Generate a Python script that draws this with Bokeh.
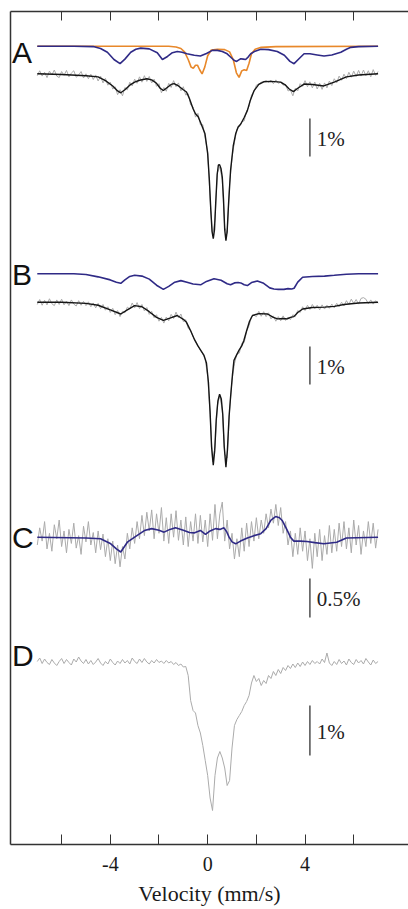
import numpy as np
from bokeh.plotting import figure
from bokeh.models import Range1d, LinearAxis, FixedTicker, CustomJSTickFormatter
from bokeh.core.properties import value
from bokeh.embed import file_html
from bokeh.resources import INLINE

# ---------------- data (absorption depth in %, velocity in mm/s) ----------------
vel = np.round(np.linspace(-7.0, 7.0, 141), 2)

a_data = [0.05, -0.08, 0.06, -0.04, 0.1, -0.07, 0.03, -0.1, 0.06, 0.1,
          -0.06, 0.04, -0.09, 0.08, -0.02, -0.08, 0.09, 0.03, -0.06, 0.11,
          0.0, 0.13, 0.01, 0.15, 0.03, 0.19, 0.06, 0.24, 0.12, 0.3,
          0.22, 0.4, 0.34, 0.55, 0.42, 0.58, 0.36, 0.42, 0.22, 0.32,
          0.14, 0.25, 0.08, 0.22, 0.05, 0.2, 0.07, 0.24, 0.14, 0.33,
          0.26, 0.5, 0.36, 0.46, 0.25, 0.36, 0.18, 0.34, 0.24, 0.45,
          0.34, 0.56, 0.52, 0.82, 0.87, 1.14, 1.04, 1.34, 1.34, 1.7,
          2.05, 3.3, 4.25, 3.85, 2.6, 2.45, 2.8, 4.05, 4.2, 2.9,
          2.2, 1.8, 1.46, 1.4, 1.26, 1.24, 0.98, 0.86, 0.56, 0.47,
          0.3, 0.27, 0.22, 0.21, 0.18, 0.22, 0.17, 0.26, 0.16, 0.25,
          0.22, 0.3, 0.28, 0.45, 0.43, 0.58, 0.38, 0.45, 0.26, 0.33,
          0.18, 0.34, 0.21, 0.37, 0.22, 0.4, 0.25, 0.41, 0.24, 0.37,
          0.19, 0.31, 0.13, 0.24, 0.06, 0.17, 0.01, 0.13, -0.04, 0.09,
          -0.07, 0.07, -0.09, 0.06, -0.1, 0.05, -0.08, 0.08, -0.11, 0.04,
          -0.06]

b_data = [0.06, -0.07, 0.08, -0.05, 0.07, -0.09, 0.04, 0.09, -0.06, 0.06,
          -0.08, 0.07, -0.03, 0.09, -0.06, 0.05, 0.1, -0.04, 0.08, -0.02,
          0.09, -0.01, 0.12, 0.02, 0.15, 0.03, 0.17, 0.06, 0.21, 0.12,
          0.27, 0.16, 0.33, 0.22, 0.38, 0.24, 0.28, 0.13, 0.18, 0.02,
          0.15, 0.01, 0.17, 0.06, 0.23, 0.14, 0.32, 0.24, 0.41, 0.33,
          0.5, 0.4, 0.55, 0.39, 0.49, 0.32, 0.43, 0.26, 0.41, 0.31,
          0.51, 0.46, 0.69, 0.74, 0.91, 1.02, 1.15, 1.26, 1.36, 1.51,
          1.95, 2.95, 4.2, 3.8, 2.72, 2.45, 2.85, 4.0, 4.1, 2.85,
          2.05, 1.62, 1.36, 1.34, 1.08, 1.06, 0.76, 0.62, 0.38, 0.34,
          0.38, 0.24, 0.37, 0.25, 0.38, 0.28, 0.44, 0.36, 0.5, 0.38,
          0.49, 0.36, 0.48, 0.39, 0.46, 0.33, 0.38, 0.22, 0.27, 0.12,
          0.22, 0.08, 0.19, 0.06, 0.17, 0.08, 0.2, 0.07, 0.18, 0.08,
          0.16, 0.05, 0.15, 0.03, 0.12, 0.0, 0.1, -0.04, 0.06, -0.08,
          0.03, -0.07, 0.05, -0.1, -0.12, -0.08, 0.04, -0.06, 0.05, -0.04,
          0.03]

c_data = [0.1, -0.12, 0.05, -0.2, 0.15, -0.05, 0.18, -0.16, 0.02, -0.22,
          0.12, -0.08, 0.2, -0.1, 0.08, -0.18, 0.14, -0.02, 0.22, -0.14,
          0.06, -0.2, 0.1, -0.06, 0.2, -0.08, 0.16, -0.04, 0.25, 0.02,
          0.3, 0.05, 0.34, 0.1, 0.38, 0.12, 0.28, -0.05, 0.15, -0.12,
          0.08, -0.2, 0.02, -0.28, -0.02, -0.32, -0.08, -0.35, 0.02, -0.3,
          -0.05, -0.38, 0.05, -0.25, 0.08, -0.3, 0.0, -0.34, 0.04, -0.22,
          0.1, -0.26, 0.12, -0.2, 0.05, -0.3, 0.08, -0.28, 0.06, -0.22,
          0.12, -0.3, 0.04, -0.42, 0.02, -0.3, -0.45, 0.05, -0.22, 0.15,
          -0.05, 0.28, 0.02, 0.25, -0.12, 0.18, -0.18, 0.12, -0.2, 0.05,
          -0.25, 0.02, -0.22, -0.05, -0.3, -0.12, -0.36, -0.18, -0.42, -0.15,
          -0.38, -0.05, -0.2, 0.1, -0.08, 0.25, -0.05, 0.22, -0.12, 0.18,
          -0.08, 0.3, 0.02, 0.4, -0.05, 0.25, -0.1, 0.3, -0.02, 0.22,
          -0.15, 0.2, -0.1, 0.18, -0.18, 0.12, -0.2, 0.15, -0.12, 0.2,
          -0.22, 0.1, -0.15, 0.22, -0.08, 0.12, -0.2, 0.08, -0.18, 0.14,
          -0.1]

d_data = [0.02, -0.05, 0.06, -0.03, 0.04, 0.08, -0.02, 0.05, 0.1, 0.02,
          -0.04, 0.06, -0.02, 0.04, 0.09, -0.03, 0.03, -0.07, 0.01, 0.06,
          -0.02, 0.07, 0.0, 0.08, 0.03, -0.04, 0.05, 0.1, 0.02, 0.07,
          -0.03, 0.04, 0.09, 0.01, 0.06, -0.02, 0.05, 0.0, 0.07, -0.05,
          0.02, 0.06, -0.03, 0.04, -0.04, 0.03, 0.07, 0.0, 0.05, -0.02,
          0.04, 0.01, 0.06, 0.0, 0.05, 0.02, 0.08, 0.04, 0.1, 0.07,
          0.13, 0.12, 0.3, 0.8, 1.0, 1.05, 1.3, 1.45, 1.7, 2.0,
          2.3, 2.75, 3.0, 2.3, 1.95, 1.82, 1.95, 2.15, 2.5, 2.4,
          1.75, 1.3, 1.18, 1.1, 1.02, 0.9, 0.82, 0.7, 0.45, 0.3,
          0.42, 0.36, 0.5, 0.4, 0.46, 0.3, 0.36, 0.22, 0.3, 0.18,
          0.26, 0.14, 0.2, 0.1, 0.16, 0.07, 0.14, 0.05, 0.12, 0.03,
          0.1, 0.02, 0.08, 0.0, 0.06, 0.02, 0.07, -0.03, 0.04, -0.15,
          0.05, 0.1, 0.02, 0.08, -0.02, 0.06, 0.01, 0.09, -0.03, 0.04,
          0.08, -0.02, 0.05, 0.0, 0.07, -0.04, 0.03, 0.09, -0.01, 0.06,
          0.02]

# fitted curves
a_fit_v = [-7.0, -6.0, -5.0, -4.5, -4.2, -3.9, -3.7, -3.57, -3.4, -3.2,
           -3.0, -2.8, -2.5, -2.3, -2.1, -1.95, -1.82, -1.7, -1.5, -1.38,
           -1.2, -1.0, -0.87, -0.75, -0.6, -0.5, -0.39, -0.25, -0.11, 0.0,
           0.07, 0.13, 0.18, 0.23, 0.28, 0.33, 0.39, 0.44, 0.49, 0.55,
           0.6, 0.65, 0.7, 0.75, 0.8, 0.86, 0.94, 1.05, 1.15, 1.25,
           1.36, 1.5, 1.63, 1.75, 1.9, 2.1, 2.3, 2.6, 3.0, 3.2,
           3.35, 3.52, 3.7, 3.96, 4.3, 4.77, 5.2, 5.7, 6.2, 7.0]
a_fit = [0, 0.02, 0.05, 0.08, 0.18, 0.32, 0.45, 0.5, 0.42, 0.3,
         0.22, 0.17, 0.13, 0.16, 0.25, 0.38, 0.44, 0.38, 0.28, 0.26,
         0.32, 0.42, 0.48, 0.65, 0.92, 1.05, 1.13, 1.35, 1.58, 2.1,
         2.8, 3.6, 4.15, 4.34, 4.1, 3.4, 2.65, 2.4, 2.39, 2.5,
         2.72, 3.3, 4.1, 4.39, 4.15, 3.4, 2.55, 1.9, 1.58, 1.4,
         1.32, 1.15, 0.97, 0.7, 0.45, 0.28, 0.21, 0.2, 0.22, 0.3,
         0.4, 0.47, 0.38, 0.27, 0.28, 0.32, 0.22, 0.08, 0.03, 0]

a_mag_v = [-7.0, -5.5, -4.7, -4.4, -4.12, -3.85, -3.6, -3.4, -3.16, -2.95,
           -2.75, -2.4, -2.07, -1.86, -1.65, -1.45, -1.25, -1.05, -0.85, -0.55,
           -0.3, -0.05, 0.19, 0.4, 0.6, 0.8, 0.95, 1.08, 1.19, 1.28,
           1.36, 1.46, 1.56, 1.67, 1.77, 1.95, 2.18, 2.5, 2.86, 3.15,
           3.38, 3.55, 3.72, 3.96, 4.2, 4.5, 4.78, 5.1, 5.47, 5.7,
           5.88, 6.2, 7.0]
a_mag = [0, 0, 0.01, 0.06, 0.16, 0.35, 0.46, 0.34, 0.16, 0.08,
         0.05, 0.07, 0.17, 0.35, 0.27, 0.17, 0.14, 0.16, 0.2, 0.24,
         0.26, 0.19, 0.11, 0.11, 0.14, 0.2, 0.29, 0.37, 0.4, 0.36,
         0.33, 0.34, 0.35, 0.28, 0.2, 0.13, 0.08, 0.09, 0.14, 0.24,
         0.4, 0.46, 0.35, 0.2, 0.2, 0.23, 0.26, 0.23, 0.16, 0.08,
         0.03, 0.01, 0]

a_dbl_v = [-7.0, -1.6, -1.3, -1.1, -0.95, -0.8, -0.68, -0.59, -0.5, -0.42,
           -0.33, -0.23, -0.12, 0.0, 0.15, 0.4, 0.7, 0.9, 1.05, 1.18,
           1.29, 1.4, 1.5, 1.6, 1.7, 1.8, 1.95, 2.2, 2.8, 7.0]
a_dbl = [0, 0, 0.02, 0.06, 0.15, 0.35, 0.55, 0.58, 0.5, 0.5,
         0.62, 0.73, 0.55, 0.25, 0.1, 0.08, 0.09, 0.15, 0.35, 0.7,
         0.82, 0.65, 0.62, 0.64, 0.45, 0.2, 0.08, 0.03, 0.01, 0]

b_fit_v = [-7.0, -6.0, -5.0, -4.5, -4.0, -3.57, -3.3, -3.0, -2.7, -2.4,
           -2.1, -1.82, -1.55, -1.25, -1.0, -0.87, -0.7, -0.53, -0.4, -0.29,
           -0.15, -0.05, 0.03, 0.1, 0.16, 0.23, 0.29, 0.35, 0.42, 0.49,
           0.56, 0.62, 0.68, 0.75, 0.81, 0.88, 0.94, 1.02, 1.08, 1.18,
           1.29, 1.4, 1.49, 1.6, 1.72, 1.84, 2.1, 2.46, 2.7, 2.87,
           3.1, 3.27, 3.4, 3.54, 3.7, 3.9, 4.3, 4.8, 5.2, 5.6,
           6.2, 7.0]
b_fit = [0, 0.0, 0.03, 0.08, 0.2, 0.31, 0.2, 0.09, 0.12, 0.25,
         0.4, 0.48, 0.42, 0.35, 0.45, 0.53, 0.75, 1.0, 1.15, 1.26,
         1.4, 1.6, 2.1, 2.9, 3.8, 4.29, 3.9, 3.1, 2.6, 2.42,
         2.55, 2.95, 3.8, 4.34, 3.9, 3.0, 2.5, 1.9, 1.53, 1.4,
         1.26, 1.15, 1.0, 0.75, 0.5, 0.35, 0.3, 0.31, 0.4, 0.44,
         0.43, 0.44, 0.4, 0.38, 0.27, 0.18, 0.14, 0.13, 0.11, 0.06,
         0.02, 0]

b_mag_v = [-7.0, -5.5, -5.0, -4.5, -4.0, -3.75, -3.57, -3.4, -3.2, -3.0,
           -2.7, -2.4, -2.1, -1.82, -1.6, -1.35, -1.1, -0.85, -0.6, -0.29,
           -0.05, 0.26, 0.55, 0.8, 0.94, 1.1, 1.25, 1.36, 1.5, 1.63,
           1.8, 2.04, 2.3, 2.55, 2.72, 2.9, 3.13, 3.3, 3.45, 3.55,
           3.7, 3.9, 4.3, 4.8, 5.2, 5.7, 6.2, 7.0]
b_mag = [0, 0, 0.02, 0.08, 0.16, 0.22, 0.25, 0.16, 0.07, 0.04,
         0.06, 0.14, 0.3, 0.41, 0.33, 0.22, 0.18, 0.22, 0.27, 0.29,
         0.2, 0.13, 0.17, 0.26, 0.29, 0.24, 0.23, 0.24, 0.29, 0.31,
         0.23, 0.19, 0.25, 0.37, 0.4, 0.41, 0.41, 0.39, 0.4, 0.38,
         0.22, 0.09, 0.07, 0.06, 0.04, 0.01, 0, 0]

c_fit_v = [-7.0, -5.0, -4.4, -3.98, -3.75, -3.57, -3.3, -3.0, -2.6, -2.3,
           -2.0, -1.79, -1.55, -1.32, -1.0, -0.75, -0.56, -0.3, -0.09, 0.1,
           0.32, 0.5, 0.67, 0.78, 0.88, 1.0, 1.15, 1.35, 1.63, 1.9,
           2.18, 2.4, 2.6, 2.79, 2.95, 3.07, 3.25, 3.4, 3.54, 3.8,
           4.08, 4.4, 4.77, 5.3, 5.7, 7.0]
c_fit = [0, 0.01, 0.02, 0.085, 0.15, 0.19, 0.064, 0.0, -0.085, -0.11,
         -0.09, -0.065, -0.1, -0.12, -0.09, -0.06, -0.055, -0.086, -0.035, -0.08,
         -0.11, -0.1, -0.12, -0.07, 0.0, 0.06, 0.085, 0.05, 0.01, -0.02,
         -0.045, -0.11, -0.22, -0.265, -0.25, -0.21, -0.1, 0.0, 0.05, 0.05,
         0.056, 0.07, 0.085, 0.064, 0.01, 0]

panel_letters = ["A", "B", "C", "D"]
scale_labels = ["1%", "1%", "0.5%", "1%"]
scale_sizes = [1.0, 1.0, 0.5, 1.0]
major_ticks = [-4, 0, 4]
minor_ticks = [-6, -2, 2, 6]
x_title = "Velocity (mm/s)"

# ---------------- layout constants (screen px, y grows downward) ----------------
LAYOUT = {
    "A": dict(comp=45.7, data=73.3, k=38.0, bar=118.0, letter=52.0),
    "B": dict(comp=273.3, data=301.7, k=38.0, bar=346.0, letter=274.0),
    "C": dict(comp=536.7, data=536.7, k=78.0, bar=578.0, letter=537.0),
    "D": dict(comp=660.0, data=660.0, k=50.0, bar=705.0, letter=655.0),
}

GRAY = "#ababab"
BLACK = "#151515"
BLUE = "#2f2a86"
ORANGE = "#e8882a"
SERIF = "Times New Roman"

p = figure(width=408, height=909, output_backend="svg", toolbar_location=None,
           x_range=Range1d(-8.10, 8.25), y_range=Range1d(844, 11),
           x_axis_location=None, y_axis_location=None,
           min_border_left=10, min_border_right=0, min_border_top=11,
           min_border_bottom=65)
p.grid.visible = False
p.outline_line_color = None
p.background_fill_color = "white"
p.border_fill_color = "white"


def tr(vals, base, k):
    return [base + k * v for v in vals]


def grid_for(arr):
    return list(vel[:len(arr)])


LA, LB, LC, LD = LAYOUT["A"], LAYOUT["B"], LAYOUT["C"], LAYOUT["D"]

# panel A
p.line(grid_for(a_data), tr(a_data, LA["data"], LA["k"]), line_color=GRAY, line_width=1)
p.line(a_fit_v, tr(a_fit, LA["data"], LA["k"]), line_color=BLACK, line_width=1.4)
p.line(a_dbl_v, tr(a_dbl, LA["comp"], LA["k"]), line_color=ORANGE, line_width=1.6)
p.line(a_mag_v, tr(a_mag, LA["comp"], LA["k"]), line_color=BLUE, line_width=1.6)

# panel B
p.line(b_mag_v, tr(b_mag, LB["comp"], LB["k"]), line_color=BLUE, line_width=1.6)
p.line(grid_for(b_data), tr(b_data, LB["data"], LB["k"]), line_color=GRAY, line_width=1)
p.line(b_fit_v, tr(b_fit, LB["data"], LB["k"]), line_color=BLACK, line_width=1.4)

# panel C
p.line(grid_for(c_data), tr(c_data, LC["data"], LC["k"]), line_color=GRAY, line_width=1)
p.line(c_fit_v, tr(c_fit, LC["comp"], LC["k"]), line_color=BLUE, line_width=1.6)

# panel D
p.line(grid_for(d_data), tr(d_data, LD["data"], LD["k"]), line_color=GRAY, line_width=1)

# scale bars and panel letters
bar_x = 4.2
keys = ["A", "B", "C", "D"]
y0 = [LAYOUT[k]["bar"] for k in keys]
y1 = [LAYOUT[k]["bar"] + LAYOUT[k]["k"] * s for k, s in zip(keys, scale_sizes)]
p.segment(x0=[bar_x] * 4, x1=[bar_x] * 4, y0=y0, y1=y1, line_color="#333333", line_width=1.3)
p.text(x=[bar_x + 0.28] * 4, y=[(a + b) / 2 + 1 for a, b in zip(y0, y1)], text=scale_labels,
       text_font=value(SERIF), text_font_size="21px",
       text_color="#222222", text_baseline="middle", text_align="left")
p.text(x=[-8.04] * 4, y=[LAYOUT[k]["letter"] for k in keys], text=panel_letters,
       text_font=value("Liberation Sans"), text_font_size="30px",
       text_color="#111111", text_baseline="middle", text_align="left")

# axes
xb = LinearAxis(ticker=FixedTicker(ticks=major_ticks, minor_ticks=minor_ticks),
                axis_label=x_title,
                formatter=CustomJSTickFormatter(code="return String(tick)"))
xb.major_tick_in = 10
xb.major_tick_out = 0
xb.minor_tick_in = 10
xb.minor_tick_out = 0
xb.axis_line_color = "#333333"
xb.major_tick_line_color = "#333333"
xb.minor_tick_line_color = "#333333"
xb.axis_line_width = 1.3
xb.major_label_text_font = SERIF
xb.major_label_text_font_size = "20px"
xb.major_label_text_color = "#1a1a1a"
xb.major_label_standoff = 12
xb.axis_label_text_font = SERIF
xb.axis_label_text_font_size = "22px"
xb.axis_label_text_font_style = "normal"
xb.axis_label_text_color = "#1a1a1a"
xb.axis_label_standoff = 7
p.add_layout(xb, "below")

xt = LinearAxis(ticker=FixedTicker(ticks=[], minor_ticks=major_ticks + minor_ticks))
xt.major_tick_in = 0
xt.major_tick_out = 0
xt.minor_tick_in = 9
xt.minor_tick_out = 0
xt.axis_line_color = "#333333"
xt.minor_tick_line_color = "#333333"
xt.axis_line_width = 1.3
xt.major_label_standoff = 0
p.add_layout(xt, "above")

yl = LinearAxis(ticker=FixedTicker(ticks=[]))
yl.axis_line_color = "#333333"
yl.axis_line_width = 1.5
yl.major_tick_in = 0
yl.major_tick_out = 0
yl.major_label_standoff = 0
p.add_layout(yl, "left")

open("out.html", "w").write(file_html(p, INLINE))
